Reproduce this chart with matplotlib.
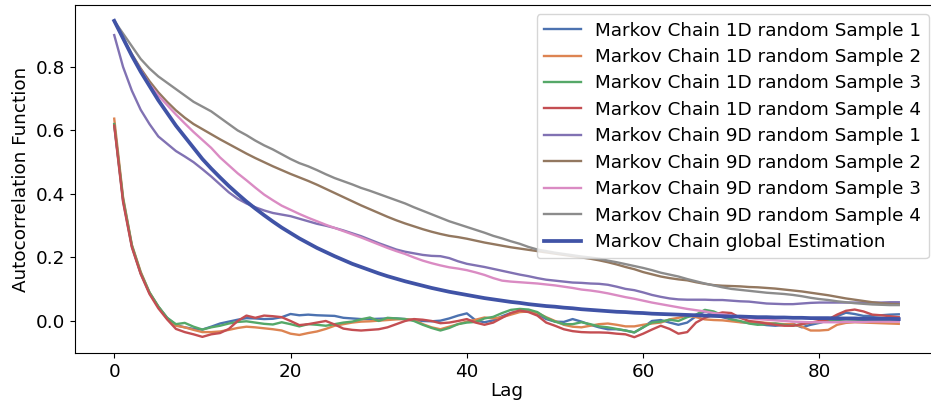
import numpy as np
import matplotlib.pyplot as plt

# autocorrelation values, lags 0..89
lags = np.arange(90)

acf_1d_s1 = [0.62, 0.38, 0.235, 0.15, 0.088, 0.045, 0.01, -0.013, -0.02, -0.025,
             -0.027, -0.018, -0.008, -0.002, 0.004, 0.009, 0.008, 0.006, 0.007, 0.012,
             0.022, 0.018, 0.02, 0.018, 0.017, 0.016, 0.01, 0.008, 0.006, 0.006,
             0.007, 0.008, 0.008, 0.006, 0.003, 0.0, -0.001, 0.001, 0.008, 0.017,
             0.024, 0.002, -0.004, 0.002, 0.015, 0.025, 0.03, 0.03, 0.022, 0.006,
             -0.002, -0.003, 0.006, -0.002, -0.012, -0.02, -0.026, -0.026, -0.03, -0.036,
             -0.02, 0.0, 0.003, -0.005, -0.012, -0.005, 0.015, 0.031, 0.02, 0.012,
             0.005, -0.003, -0.006, -0.009, -0.013, -0.015, -0.012, -0.009, -0.02, -0.012,
             -0.006, 0.002, 0.015, 0.026, 0.022, 0.016, 0.016, 0.018, 0.02, 0.021]

acf_1d_s2 = [0.637, 0.39, 0.24, 0.155, 0.09, 0.045, 0.008, -0.015, -0.02, -0.028,
             -0.035, -0.035, -0.033, -0.028, -0.022, -0.018, -0.02, -0.023, -0.026, -0.03,
             -0.04, -0.044, -0.038, -0.033, -0.025, -0.015, -0.01, -0.005, -0.002, -0.001,
             0.001, 0.003, 0.005, 0.006, 0.004, -0.01, -0.02, -0.026, -0.018, -0.01,
             -0.002, 0.004, 0.011, 0.008, 0.012, 0.02, 0.028, 0.03, 0.025, 0.012,
             0.0, -0.012, -0.018, -0.02, -0.015, -0.01, -0.008, -0.012, -0.017, -0.017,
             -0.012, -0.008, -0.005, 0.005, 0.01, 0.017, 0.012, 0.005, 0.003, 0.002,
             -0.001, -0.004, -0.005, -0.004, -0.006, -0.008, -0.01, -0.01, -0.018, -0.03,
             -0.03, -0.028, -0.012, -0.006, -0.004, -0.005, -0.006, -0.007, -0.008, -0.009]

acf_1d_s3 = [0.62, 0.385, 0.238, 0.152, 0.09, 0.046, 0.01, -0.01, -0.006, -0.018,
             -0.027, -0.02, -0.015, -0.008, -0.003, -0.001, -0.005, -0.009, -0.011, -0.004,
             -0.01, -0.017, -0.01, -0.012, -0.015, -0.01, -0.005, -0.002, 0.005, 0.011,
             0.0, 0.01, 0.008, 0.006, 0.0, -0.012, -0.022, -0.03, -0.022, -0.01,
             -0.005, -0.003, 0.008, 0.013, 0.025, 0.035, 0.038, 0.036, 0.028, 0.01,
             -0.002, -0.01, -0.01, -0.004, -0.01, -0.017, -0.02, -0.025, -0.03, -0.036,
             -0.02, -0.005, -0.002, 0.004, 0.0, 0.012, 0.02, 0.035, 0.03, 0.018,
             0.005, 0.0, -0.008, -0.012, -0.01, -0.008, -0.012, -0.015, -0.01, -0.005,
             -0.004, 0.0, 0.003, 0.005, 0.004, 0.003, 0.002, 0.002, 0.001, 0.0]

acf_1d_s4 = [0.615, 0.375, 0.232, 0.148, 0.085, 0.04, 0.005, -0.025, -0.035, -0.042,
             -0.05, -0.042, -0.038, -0.025, 0.0, 0.017, 0.01, 0.017, 0.015, 0.012,
             0.0, -0.013, -0.01, -0.005, 0.0, -0.011, -0.024, -0.028, -0.03, -0.028,
             -0.026, -0.02, -0.01, 0.0, 0.006, 0.004, 0.0, -0.007, -0.005, 0.0,
             0.006, -0.005, -0.012, -0.005, 0.01, 0.025, 0.033, 0.028, 0.017, -0.005,
             -0.015, -0.026, -0.032, -0.035, -0.036, -0.036, -0.037, -0.04, -0.042, -0.051,
             -0.04, -0.027, -0.015, -0.025, -0.04, -0.035, -0.005, 0.01, 0.02, 0.027,
             0.025, 0.01, 0.0, -0.003, -0.008, -0.012, -0.015, -0.015, -0.01, -0.005,
             0.0, 0.005, 0.02, 0.032, 0.036, 0.03, 0.02, 0.018, 0.015, 0.012]

acf_9d_s1 = [0.90, 0.80, 0.725, 0.665, 0.62, 0.581, 0.558, 0.535, 0.518, 0.5,
             0.478, 0.455, 0.43, 0.405, 0.385, 0.37, 0.358, 0.348, 0.34, 0.335,
             0.33, 0.322, 0.314, 0.306, 0.3, 0.293, 0.285, 0.276, 0.267, 0.256,
             0.245, 0.235, 0.225, 0.218, 0.213, 0.208, 0.205, 0.204, 0.198, 0.188,
             0.18, 0.175, 0.17, 0.164, 0.158, 0.152, 0.146, 0.141, 0.135, 0.13,
             0.127, 0.124, 0.121, 0.12, 0.118, 0.117, 0.114, 0.108, 0.101, 0.097,
             0.09, 0.082, 0.076, 0.071, 0.068, 0.067, 0.067, 0.067, 0.066, 0.066,
             0.064, 0.062, 0.061, 0.058, 0.055, 0.054, 0.053, 0.053, 0.055, 0.057,
             0.058, 0.058, 0.058, 0.058, 0.058, 0.058, 0.058, 0.058, 0.059, 0.059]

acf_9d_s2 = [0.945, 0.89, 0.84, 0.795, 0.755, 0.72, 0.69, 0.663, 0.64, 0.62,
             0.604, 0.588, 0.572, 0.557, 0.542, 0.527, 0.513, 0.5, 0.487, 0.475,
             0.463, 0.452, 0.441, 0.429, 0.416, 0.403, 0.39, 0.377, 0.364, 0.352,
             0.34, 0.328, 0.317, 0.307, 0.298, 0.289, 0.281, 0.274, 0.268, 0.264,
             0.259, 0.253, 0.247, 0.242, 0.237, 0.232, 0.228, 0.224, 0.22, 0.216,
             0.212, 0.208, 0.204, 0.2, 0.196, 0.191, 0.185, 0.178, 0.17, 0.163,
             0.154, 0.147, 0.14, 0.135, 0.131, 0.128, 0.122, 0.117, 0.113, 0.111,
             0.11, 0.109, 0.107, 0.106, 0.104, 0.102, 0.099, 0.096, 0.093, 0.089,
             0.085, 0.081, 0.076, 0.071, 0.067, 0.063, 0.059, 0.056, 0.054, 0.053]

acf_9d_s3 = [0.945, 0.89, 0.835, 0.79, 0.745, 0.71, 0.68, 0.65, 0.622, 0.595,
             0.57, 0.545, 0.515, 0.49, 0.465, 0.443, 0.42, 0.398, 0.38, 0.363,
             0.35, 0.337, 0.325, 0.314, 0.303, 0.293, 0.283, 0.273, 0.263, 0.252,
             0.241, 0.23, 0.22, 0.211, 0.2, 0.19, 0.182, 0.175, 0.169, 0.165,
             0.16, 0.153, 0.145, 0.135, 0.127, 0.124, 0.122, 0.12, 0.118, 0.115,
             0.112, 0.108, 0.104, 0.099, 0.096, 0.092, 0.087, 0.081, 0.075, 0.07,
             0.064, 0.058, 0.053, 0.048, 0.043, 0.038, 0.034, 0.03, 0.025, 0.021,
             0.017, 0.013, 0.009, 0.006, 0.004, 0.002, 0.0, -0.002, -0.003, -0.004,
             -0.004, -0.004, -0.004, -0.003, -0.003, -0.003, -0.002, -0.002, -0.002, -0.002]

acf_9d_s4 = [0.945, 0.905, 0.865, 0.825, 0.795, 0.77, 0.75, 0.73, 0.71, 0.69,
             0.675, 0.66, 0.64, 0.62, 0.60, 0.585, 0.568, 0.553, 0.54, 0.525,
             0.51, 0.497, 0.487, 0.475, 0.462, 0.45, 0.44, 0.43, 0.419, 0.41,
             0.40, 0.39, 0.38, 0.37, 0.358, 0.347, 0.336, 0.325, 0.314, 0.305,
             0.296, 0.287, 0.278, 0.268, 0.26, 0.251, 0.243, 0.233, 0.225, 0.22,
             0.215, 0.211, 0.207, 0.203, 0.2, 0.196, 0.19, 0.185, 0.179, 0.173,
             0.167, 0.16, 0.152, 0.146, 0.14, 0.132, 0.125, 0.118, 0.112, 0.106,
             0.101, 0.098, 0.095, 0.092, 0.089, 0.087, 0.085, 0.082, 0.078, 0.073,
             0.069, 0.066, 0.062, 0.059, 0.056, 0.054, 0.052, 0.051, 0.05, 0.05]

acf_global = [0.945, 0.89, 0.835, 0.785, 0.74, 0.695, 0.655, 0.615, 0.58, 0.545,
              0.51, 0.48, 0.452, 0.425, 0.40, 0.376, 0.354, 0.333, 0.313, 0.294,
              0.277, 0.26, 0.245, 0.23, 0.217, 0.204, 0.192, 0.18, 0.17, 0.16,
              0.15, 0.141, 0.133, 0.125, 0.118, 0.111, 0.104, 0.098, 0.092, 0.087,
              0.082, 0.077, 0.072, 0.068, 0.064, 0.06, 0.057, 0.053, 0.05, 0.047,
              0.045, 0.042, 0.04, 0.037, 0.035, 0.033, 0.031, 0.029, 0.028, 0.026,
              0.025, 0.023, 0.022, 0.021, 0.02, 0.019, 0.018, 0.017, 0.016, 0.015,
              0.014, 0.014, 0.013, 0.012, 0.012, 0.011, 0.011, 0.01, 0.01, 0.009,
              0.009, 0.009, 0.008, 0.008, 0.008, 0.007, 0.007, 0.007, 0.007, 0.006]

series = [
    ("Markov Chain 1D random Sample 1", acf_1d_s1, "#4C72B0"),
    ("Markov Chain 1D random Sample 2", acf_1d_s2, "#DD8452"),
    ("Markov Chain 1D random Sample 3", acf_1d_s3, "#55A868"),
    ("Markov Chain 1D random Sample 4", acf_1d_s4, "#C44E52"),
    ("Markov Chain 9D random Sample 1", acf_9d_s1, "#8172B3"),
    ("Markov Chain 9D random Sample 2", acf_9d_s2, "#937860"),
    ("Markov Chain 9D random Sample 3", acf_9d_s3, "#DA8BC3"),
    ("Markov Chain 9D random Sample 4", acf_9d_s4, "#8C8C8C"),
]

plt.rcParams["font.size"] = 13.2

fig = plt.figure(figsize=(9.31, 4.05), dpi=100)
# axes runs slightly past the right edge, as in the reference crop
ax = fig.add_axes([75 / 931, 52 / 405, 863 / 931, 348 / 405])

for name, vals, col in series:
    ax.plot(lags, vals, color=col, lw=1.7, label=name)
ax.plot(lags, acf_global, color="#4053A6", lw=2.7, label="Markov Chain global Estimation")

ax.set_xlabel("Lag", labelpad=1)
ax.set_ylabel("Autocorrelation Function")
ax.legend(loc="upper right", handlelength=2.0, labelspacing=0.46)

fig.savefig("out.png", dpi=100)
